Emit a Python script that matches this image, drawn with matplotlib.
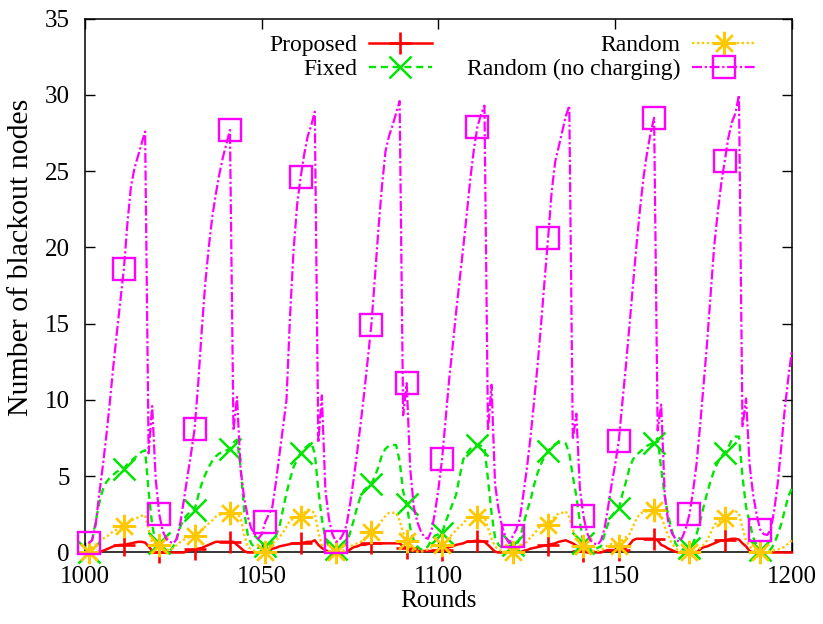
import matplotlib
matplotlib.use("Agg")
import matplotlib.pyplot as plt

plt.rcParams['font.family'] = ['Liberation Serif', 'DejaVu Serif']

rounds = list(range(1001, 1201))

proposed = [
    0.0, 0.0, 0.0, 0.05, 0.1, 0.2, 0.3, 0.4, 0.45, 0.5,
    0.5, 0.55, 0.6, 0.65, 0.7, 0.7, 0.65, 0.4, 0.1, 0.0,
    0.0, 0.0, 0.0, 0.0, 0.0, 0.0, 0.0, 0.0, 0.1, 0.15,
    0.2, 0.25, 0.3, 0.4, 0.5, 0.6, 0.7, 0.7, 0.7, 0.7,
    0.7, 0.7, 0.5, 0.3, 0.1, 0.0, 0.0, 0.0, 0.0, 0.0,
    0.0, 0.1, 0.25, 0.3, 0.4, 0.45, 0.5, 0.55, 0.6, 0.6,
    0.6, 0.65, 0.7, 0.7, 0.8, 0.5, 0.3, 0.15, 0.05, 0.0,
    0.0, 0.0, 0.0, 0.0, 0.2, 0.35, 0.4, 0.5, 0.5, 0.55,
    0.6, 0.6, 0.6, 0.6, 0.6, 0.6, 0.6, 0.6, 0.6, 0.4,
    0.27, 0.15, 0.1, 0.1, 0.1, 0.1, 0.1, 0.1, 0.1, 0.1,
    0.15, 0.25, 0.35, 0.4, 0.5, 0.55, 0.6, 0.7, 0.7, 0.75,
    0.77, 0.75, 0.7, 0.5, 0.27, 0.05, 0.0, 0.0, 0.0, 0.0,
    0.0, 0.0, 0.0, 0.1, 0.16, 0.25, 0.3, 0.35, 0.4, 0.45,
    0.5, 0.55, 0.6, 0.7, 0.75, 0.8, 0.7, 0.6, 0.45, 0.27,
    0.1, 0.0, 0.0, 0.0, 0.0, 0.0, 0.1, 0.16, 0.16, 0.16,
    0.16, 0.2, 0.3, 0.5, 0.8, 0.9, 0.9, 0.9, 0.9, 0.9,
    0.9, 0.8, 0.5, 0.4, 0.25, 0.16, 0.05, 0.0, 0.0, 0.0,
    0.0, 0.0, 0.0, 0.2, 0.35, 0.4, 0.5, 0.6, 0.7, 0.8,
    0.8, 0.85, 0.9, 0.9, 0.85, 0.6, 0.4, 0.1, 0.0, 0.0,
    0.0, 0.0, 0.0, 0.0, 0.0, 0.0, 0.0, 0.0, 0.0, 0.0,
]

fixed = [
    0.0, 0.8, 2.0, 3.2, 4.1, 4.6, 4.9, 5.1, 5.3, 5.4,
    5.5, 5.8, 6.0, 6.2, 6.4, 6.6, 6.7, 4.0, 1.8, 0.6,
    0.6, 0.2, 0.1, 0.1, 0.4, 1.0, 1.7, 2.2, 2.5, 2.7,
    2.8, 3.7, 4.5, 5.1, 5.6, 6.0, 6.3, 6.5, 6.6, 6.7,
    6.8, 7.2, 7.4, 5.6, 2.8, 1.2, 0.6, 0.3, 0.3, 0.3,
    0.4, 0.4, 0.6, 1.1, 1.7, 2.8, 3.9, 4.8, 5.6, 6.1,
    6.5, 6.8, 7.0, 7.2, 6.5, 4.1, 2.2, 0.9, 0.4, 0.2,
    0.2, 0.2, 0.4, 0.6, 1.3, 2.1, 3.0, 3.7, 4.1, 4.3,
    4.5, 5.0, 5.6, 6.4, 6.8, 7.0, 7.05, 7.05, 6.0, 4.0,
    3.2, 1.6, 0.8, 0.4, 0.2, 0.2, 0.4, 0.8, 1.1, 1.2,
    1.26, 2.0, 2.6, 3.2, 3.8, 5.0, 6.1, 6.5, 6.8, 7.0,
    7.05, 7.0, 6.9, 4.8, 2.6, 1.0, 0.5, 0.3, 0.3, 0.4,
    0.5, 0.5, 0.9, 1.8, 2.7, 3.4, 4.4, 5.2, 5.8, 6.3,
    6.65, 6.9, 7.1, 7.2, 7.2, 7.15, 6.5, 5.0, 3.7, 2.0,
    0.6, 0.3, 0.2, 0.2, 0.3, 0.4, 1.2, 1.9, 2.4, 2.7,
    2.9, 3.8, 4.6, 5.5, 6.1, 6.4, 6.6, 6.8, 7.0, 7.1,
    7.2, 7.5, 5.5, 3.7, 2.4, 1.5, 0.6, 0.3, 0.2, 0.2,
    0.3, 0.6, 1.2, 2.0, 3.0, 3.9, 4.7, 5.4, 5.9, 6.3,
    6.55, 6.9, 7.4, 7.6, 7.6, 5.0, 3.0, 2.0, 1.0, 0.5,
    0.15, 0.1, 0.1, 0.2, 0.6, 1.2, 1.9, 2.8, 3.7, 4.2,
]

random_ch = [
    0.0, 0.3, 0.5, 0.7, 0.9, 1.0, 1.2, 1.4, 1.5, 1.6,
    1.75, 1.9, 2.1, 2.2, 2.3, 2.4, 2.45, 1.5, 0.6, 0.5,
    0.47, 0.3, 0.2, 0.15, 0.3, 0.5, 0.7, 0.85, 0.95, 1.05,
    1.1, 1.3, 1.5, 1.7, 1.9, 2.1, 2.35, 2.45, 2.5, 2.55,
    2.6, 2.55, 2.5, 2.3, 1.2, 0.4, 0.2, 0.1, 0.05, 0.0,
    0.0, 0.3, 0.6, 0.8, 1.0, 1.3, 1.7, 2.1, 2.2, 2.3,
    2.35, 2.6, 2.8, 2.7, 2.6, 1.3, 0.5, 0.2, 0.1, 0.05,
    0.0, 0.0, 0.1, 0.3, 0.4, 0.5, 0.6, 0.7, 0.9, 1.1,
    1.33, 1.5, 1.8, 2.1, 2.4, 2.6, 2.6, 2.6, 2.1, 1.3,
    0.78, 0.2, 0.1, 0.05, 0.05, 0.1, 0.2, 0.35, 0.4, 0.45,
    0.47, 0.8, 1.0, 1.2, 1.5, 1.7, 1.9, 2.2, 2.35, 2.3,
    2.3, 2.35, 2.35, 1.6, 0.9, 0.4, 0.2, 0.1, 0.05, 0.0,
    0.0, 0.1, 0.3, 0.5, 0.7, 1.0, 1.2, 1.5, 1.8, 1.85,
    1.8, 2.1, 2.4, 2.55, 2.6, 2.7, 2.3, 1.5, 1.0, 0.6,
    0.4, 0.25, 0.15, 0.1, 0.1, 0.15, 0.3, 0.5, 0.55, 0.5,
    0.4, 0.8, 1.0, 1.2, 1.7, 2.2, 2.55, 2.65, 2.7, 2.75,
    2.77, 2.7, 2.4, 1.7, 1.1, 0.6, 0.3, 0.1, 0.05, 0.0,
    0.0, 0.0, 0.1, 0.3, 0.5, 0.8, 1.3, 1.8, 2.0, 2.1,
    2.24, 2.5, 2.65, 2.7, 2.57, 1.6, 0.8, 0.4, 0.2, 0.1,
    0.0, 0.0, 0.05, 0.1, 0.15, 0.2, 0.25, 0.4, 0.6, 0.8,
]

random_no_charging = [
    0.6, 0.8, 1.8, 3.8, 5.6, 7.6, 9.8, 12.2, 14.4, 16.5,
    18.6, 21.6, 24.0, 25.2, 26.0, 26.8, 27.6, 6.5, 9.6, 4.8,
    2.5, 1.4, 0.9, 0.7, 0.6, 0.9, 2.0, 3.5, 5.0, 6.5,
    8.1, 11.0, 14.5, 17.6, 20.0, 22.0, 23.5, 24.8, 25.9, 26.8,
    27.7, 8.0, 10.2, 5.5, 3.6, 2.4, 1.6, 1.2, 0.9, 1.2,
    2.0, 2.5, 3.0, 4.6, 6.4, 8.2, 10.0, 15.5, 19.8, 22.8,
    24.6, 26.1, 27.3, 28.0, 28.9, 7.2, 10.3, 4.1, 2.2, 1.2,
    0.7, 0.8, 1.2, 1.8, 3.2, 4.8, 6.6, 8.5, 10.5, 12.7,
    14.9, 18.0, 21.2, 24.0, 26.3, 27.3, 28.0, 28.8, 29.6, 9.0,
    11.1, 5.5, 3.0, 2.0, 1.4, 1.0, 0.9, 1.4, 2.6, 4.2,
    6.1, 8.7, 11.3, 13.5, 15.8, 17.9, 20.0, 22.2, 24.5, 26.4,
    27.9, 28.7, 29.3, 8.0, 11.0, 4.5, 2.8, 1.7, 1.0, 0.6,
    1.07, 1.5, 2.2, 3.8, 5.5, 7.5, 9.8, 12.2, 14.9, 17.8,
    20.6, 23.6, 25.6, 26.6, 27.6, 28.6, 29.3, 7.4, 9.1, 4.2,
    2.4, 1.3, 0.8, 0.6, 0.5, 0.8, 1.6, 3.0, 4.5, 5.8,
    7.3, 9.8, 12.2, 14.8, 17.5, 20.1, 22.5, 24.6, 26.2, 27.5,
    28.5, 8.0, 9.7, 3.8, 2.0, 1.3, 0.9, 0.7, 1.0, 1.6,
    2.5, 4.0, 5.8, 8.3, 11.0, 13.8, 17.0, 20.1, 22.3, 24.2,
    25.7, 27.2, 28.2, 28.8, 30.0, 8.2, 10.1, 5.8, 3.8, 2.5,
    1.5, 1.2, 1.15, 1.5, 2.8, 4.6, 7.0, 9.5, 11.5, 13.3,
]

labels = ["Proposed", "Fixed", "Random", "Random (no charging)"]
xticks = [1000, 1050, 1100, 1150, 1200]
yticks = [0, 5, 10, 15, 20, 25, 30, 35]

fig = plt.figure(figsize=(8.23, 6.24), dpi=100)
ax = fig.add_axes([0.1033, 0.1146, 0.8590, 0.8554])

ms = 16
ax.plot(rounds, proposed, color='#ff0000', lw=1.8, ls='-',
        marker='+', ms=ms, mew=1.9, markevery=10, clip_on=False,
        label=labels[0], zorder=3)
ax.plot(rounds, fixed, color='#00e600', lw=1.7, dashes=(3, 2),
        marker='x', ms=ms * 0.95, mew=1.8, markevery=10, clip_on=False,
        label=labels[1], zorder=4)
ax.plot(rounds, random_ch, color='#ffc800', lw=1.7, dashes=(1, 1.1),
        marker=(8, 2, 0), ms=ms * 1.05, mew=1.7, markevery=10, clip_on=False,
        label=labels[2], zorder=5)
ax.plot(rounds, random_no_charging, color='#ff00ff', lw=1.6,
        dashes=(4.5, 1.2, 1.0, 1.2),
        marker='s', ms=ms * 0.95, mew=1.7, mfc='none', markevery=10,
        clip_on=False, label=labels[3], zorder=6)

ax.set_xlim(1000, 1200)
ax.set_ylim(0, 35)
ax.set_xticks(xticks)
ax.set_yticks(yticks)
ax.tick_params(direction='in', length=7, width=1, top=True, right=True,
               labelsize=18)
ax.tick_params(axis='y', pad=11)
ax.tick_params(axis='x', pad=10)
for s in ax.spines.values():
    s.set_linewidth(1.1)

ax.set_xlabel("Rounds", fontsize=18, labelpad=1)
ax.set_ylabel("Number of blackout nodes", fontsize=21.5)
ax.yaxis.set_label_coords(-0.072, 0.553)

leg = fig.legend(ncol=2, markerfirst=False, frameon=False, fontsize=17,
                 loc='upper right', bbox_to_anchor=(0.9174, 0.945),
                 borderpad=0, borderaxespad=0, labelspacing=0.12,
                 handlelength=2.65, handletextpad=0.5, columnspacing=1.5,
                 numpoints=1)

fig.savefig("out.png", dpi=100)
